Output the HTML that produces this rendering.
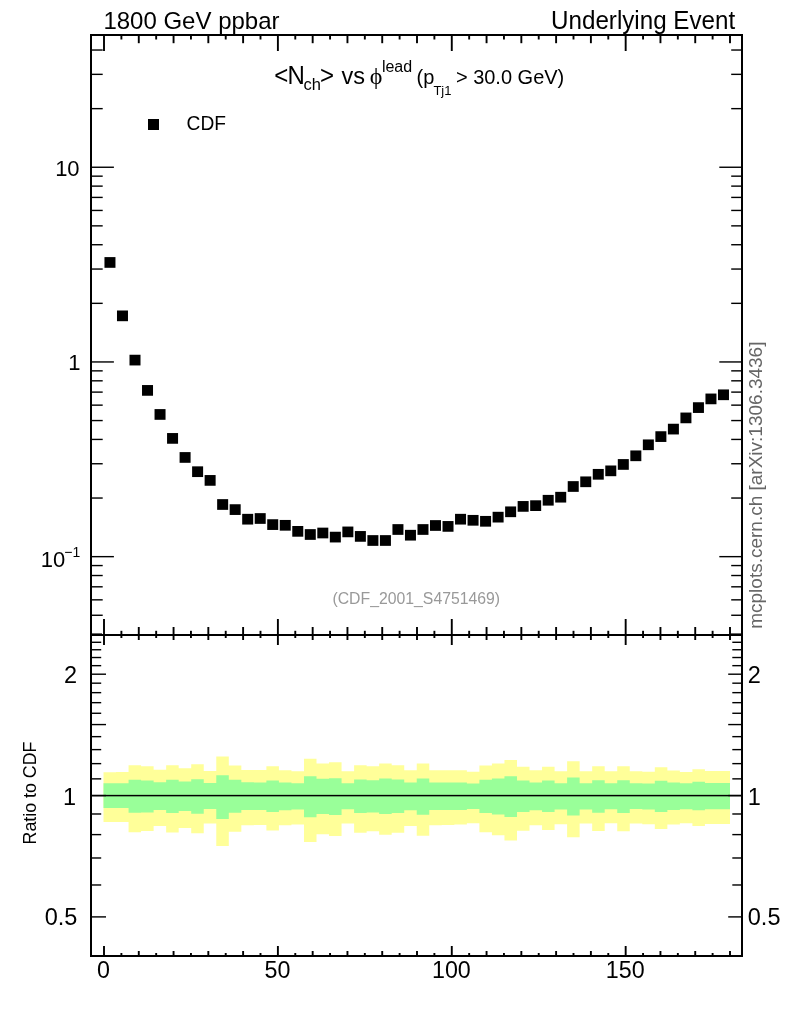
<!DOCTYPE html>
<html lang="en"><head><meta charset="utf-8"><title>Underlying Event</title>
<style>html,body{margin:0;padding:0;background:#fff}body{width:786px;height:1024px;position:relative;overflow:hidden}</style></head>
<body>
<svg width="786" height="1024" viewBox="0 0 786 1024" style="position:absolute;left:0;top:0">
<rect width="786" height="1024" fill="#fff"/>
<path d="M103.50 772.29L116.03 772.29L116.03 771.89L128.56 771.89L128.56 765.17L141.09 765.17L141.09 766.19L153.62 766.19L153.62 769.65L166.15 769.65L166.15 765.17L178.68 765.17L178.68 768.22L191.21 768.22L191.21 764.35L203.74 764.35L203.74 771.07L216.27 771.07L216.27 756.42L228.80 756.42L228.80 765.58L241.33 765.58L241.33 770.05L253.86 770.05L253.86 770.05L266.39 770.05L266.39 766.19L278.92 766.19L278.92 770.26L291.45 770.26L291.45 771.28L303.98 771.28L303.98 758.86L316.51 758.86L316.51 763.54L329.04 763.54L329.04 762.32L341.57 762.32L341.57 771.28L354.10 771.28L354.10 765.17L366.63 765.17L366.63 766.19L379.16 766.19L379.16 763.54L391.69 763.54L391.69 765.17L404.22 765.17L404.22 770.26L416.75 770.26L416.75 763.54L429.28 763.54L429.28 770.26L441.81 770.26L441.81 770.26L454.34 770.26L454.34 770.26L466.87 770.26L466.87 771.68L479.40 771.68L479.40 765.58L491.93 765.58L491.93 763.54L504.46 763.54L504.46 759.88L516.99 759.88L516.99 766.80L529.52 766.80L529.52 770.26L542.05 770.26L542.05 766.80L554.58 766.80L554.58 771.28L567.11 771.28L567.11 761.30L579.64 761.30L579.64 771.28L592.17 771.28L592.17 766.19L604.70 766.19L604.70 771.28L617.23 771.28L617.23 766.19L629.76 766.19L629.76 771.28L642.29 771.28L642.29 771.68L654.82 771.68L654.82 767.20L667.35 767.20L667.35 770.46L679.88 770.46L679.88 772.09L692.41 772.09L692.41 769.24L704.94 769.24L704.94 771.07L717.47 771.07L717.47 771.07L730.00 771.07L730.00 824.00L717.47 824.00L717.47 824.00L704.94 824.00L704.94 826.03L692.41 826.03L692.41 823.18L679.88 823.18L679.88 824.61L667.35 824.61L667.35 829.09L654.82 829.09L654.82 824.20L642.29 824.20L642.29 823.59L629.76 823.59L629.76 831.33L617.23 831.33L617.23 823.18L604.70 823.18L604.70 831.12L592.17 831.12L592.17 823.59L579.64 823.59L579.64 837.23L567.11 837.23L567.11 824.20L554.58 824.20L554.58 830.11L542.05 830.11L542.05 825.22L529.52 825.22L529.52 830.72L516.99 830.72L516.99 840.49L504.46 840.49L504.46 835.19L491.93 835.19L491.93 832.14L479.40 832.14L479.40 823.18L466.87 823.18L466.87 824.61L454.34 824.61L454.34 825.02L441.81 825.02L441.81 825.22L429.28 825.22L429.28 835.81L416.75 835.81L416.75 826.03L404.22 826.03L404.22 832.75L391.69 832.75L391.69 834.79L379.16 834.79L379.16 831.33L366.63 831.33L366.63 832.75L354.10 832.75L354.10 823.59L341.57 823.59L341.57 836.01L329.04 836.01L329.04 834.18L316.51 834.18L316.51 841.91L303.98 841.91L303.98 824.61L291.45 824.61L291.45 825.22L278.92 825.22L278.92 830.51L266.39 830.51L266.39 825.02L253.86 825.02L253.86 825.22L241.33 825.22L241.33 831.73L228.80 831.73L228.80 845.98L216.27 845.98L216.27 823.59L203.74 823.59L203.74 833.16L191.21 833.16L191.21 828.07L178.68 828.07L178.68 832.55L166.15 832.55L166.15 826.03L153.62 826.03L153.62 831.12L141.09 831.12L141.09 832.14L128.56 832.14L128.56 821.96L116.03 821.96L116.03 821.96L103.50 821.96Z" fill="#ffff99"/>
<path d="M103.50 783.29L116.03 783.29L116.03 783.29L128.56 783.29L128.56 779.83L141.09 779.83L141.09 780.44L153.62 780.44L153.62 782.27L166.15 782.27L166.15 779.83L178.68 779.83L178.68 781.45L191.21 781.45L191.21 779.22L203.74 779.22L203.74 782.88L216.27 782.88L216.27 775.14L228.80 775.14L228.80 779.83L241.33 779.83L241.33 782.27L253.86 782.27L253.86 782.47L266.39 782.47L266.39 780.44L278.92 780.44L278.92 782.47L291.45 782.47L291.45 783.29L303.98 783.29L303.98 776.16L316.51 776.16L316.51 778.81L329.04 778.81L329.04 778.20L341.57 778.20L341.57 783.29L354.10 783.29L354.10 779.42L366.63 779.42L366.63 780.23L379.16 780.23L379.16 778.40L391.69 778.40L391.69 779.42L404.22 779.42L404.22 782.47L416.75 782.47L416.75 778.40L429.28 778.40L429.28 782.47L441.81 782.47L441.81 782.47L454.34 782.47L454.34 782.47L466.87 782.47L466.87 783.49L479.40 783.49L479.40 779.83L491.93 779.83L491.93 778.40L504.46 778.40L504.46 776.37L516.99 776.37L516.99 780.44L529.52 780.44L529.52 782.47L542.05 782.47L542.05 780.44L554.58 780.44L554.58 783.29L567.11 783.29L567.11 777.38L579.64 777.38L579.64 783.29L592.17 783.29L592.17 780.23L604.70 780.23L604.70 783.29L617.23 783.29L617.23 780.23L629.76 780.23L629.76 783.29L642.29 783.29L642.29 783.49L654.82 783.49L654.82 780.84L667.35 780.84L667.35 782.47L679.88 782.47L679.88 783.29L692.41 783.29L692.41 781.86L704.94 781.86L704.94 782.88L717.47 782.88L717.47 783.08L730.00 783.08L730.00 809.14L717.47 809.14L717.47 809.34L704.94 809.34L704.94 810.36L692.41 810.36L692.41 809.34L679.88 809.34L679.88 809.95L667.35 809.95L667.35 811.99L654.82 811.99L654.82 809.55L642.29 809.55L642.29 808.94L629.76 808.94L629.76 813.01L617.23 813.01L617.23 809.34L604.70 809.34L604.70 812.80L592.17 812.80L592.17 809.55L579.64 809.55L579.64 815.45L567.11 815.45L567.11 809.55L554.58 809.55L554.58 811.99L542.05 811.99L542.05 810.36L529.52 810.36L529.52 811.99L516.99 811.99L516.99 817.08L504.46 817.08L504.46 814.43L491.93 814.43L491.93 813.01L479.40 813.01L479.40 808.94L466.87 808.94L466.87 809.95L454.34 809.95L454.34 809.95L441.81 809.95L441.81 809.95L429.28 809.95L429.28 814.84L416.75 814.84L416.75 810.36L404.22 810.36L404.22 813.01L391.69 813.01L391.69 814.02L379.16 814.02L379.16 812.40L366.63 812.40L366.63 813.01L354.10 813.01L354.10 809.34L341.57 809.34L341.57 815.04L329.04 815.04L329.04 814.02L316.51 814.02L316.51 817.28L303.98 817.28L303.98 809.55L291.45 809.55L291.45 810.36L278.92 810.36L278.92 811.99L266.39 811.99L266.39 809.95L253.86 809.95L253.86 809.95L241.33 809.95L241.33 812.80L228.80 812.80L228.80 818.91L216.27 818.91L216.27 808.94L203.74 808.94L203.74 813.82L191.21 813.82L191.21 810.97L178.68 810.97L178.68 813.01L166.15 813.01L166.15 809.95L153.62 809.95L153.62 812.40L141.09 812.40L141.09 812.80L128.56 812.80L128.56 807.92L116.03 807.92L116.03 807.92L103.50 807.92Z" fill="#99ff99"/>
<rect x="92" y="794.85" width="649" height="1.5" fill="#000"/>
<g fill="#000" shape-rendering="crispEdges">
<rect x="90" y="34" width="2" height="923"/>
<rect x="741" y="34" width="2" height="923"/>
<rect x="90" y="34" width="653" height="2"/>
<rect x="90" y="634" width="653" height="2"/>
<rect x="90" y="955" width="653" height="2"/>
</g>
<g fill="#000">
<rect x="103.05" y="35" width="1.9" height="16"/>
<rect x="103.05" y="619.00" width="1.9" height="26"/>
<rect x="103.05" y="946.00" width="1.9" height="10"/>
<rect x="120.44" y="35" width="1.9" height="4.5"/>
<rect x="120.44" y="630.80" width="1.9" height="7.2"/>
<rect x="120.44" y="953.00" width="1.9" height="3"/>
<rect x="137.83" y="35" width="1.9" height="8.2"/>
<rect x="137.83" y="627.00" width="1.9" height="13"/>
<rect x="137.83" y="951.00" width="1.9" height="5"/>
<rect x="155.22" y="35" width="1.9" height="4.5"/>
<rect x="155.22" y="630.80" width="1.9" height="7.2"/>
<rect x="155.22" y="953.00" width="1.9" height="3"/>
<rect x="172.61" y="35" width="1.9" height="8.2"/>
<rect x="172.61" y="627.00" width="1.9" height="13"/>
<rect x="172.61" y="951.00" width="1.9" height="5"/>
<rect x="190.00" y="35" width="1.9" height="4.5"/>
<rect x="190.00" y="630.80" width="1.9" height="7.2"/>
<rect x="190.00" y="953.00" width="1.9" height="3"/>
<rect x="207.38" y="35" width="1.9" height="8.2"/>
<rect x="207.38" y="627.00" width="1.9" height="13"/>
<rect x="207.38" y="951.00" width="1.9" height="5"/>
<rect x="224.77" y="35" width="1.9" height="4.5"/>
<rect x="224.77" y="630.80" width="1.9" height="7.2"/>
<rect x="224.77" y="953.00" width="1.9" height="3"/>
<rect x="242.16" y="35" width="1.9" height="8.2"/>
<rect x="242.16" y="627.00" width="1.9" height="13"/>
<rect x="242.16" y="951.00" width="1.9" height="5"/>
<rect x="259.55" y="35" width="1.9" height="4.5"/>
<rect x="259.55" y="630.80" width="1.9" height="7.2"/>
<rect x="259.55" y="953.00" width="1.9" height="3"/>
<rect x="276.94" y="35" width="1.9" height="16"/>
<rect x="276.94" y="619.00" width="1.9" height="26"/>
<rect x="276.94" y="946.00" width="1.9" height="10"/>
<rect x="294.33" y="35" width="1.9" height="4.5"/>
<rect x="294.33" y="630.80" width="1.9" height="7.2"/>
<rect x="294.33" y="953.00" width="1.9" height="3"/>
<rect x="311.72" y="35" width="1.9" height="8.2"/>
<rect x="311.72" y="627.00" width="1.9" height="13"/>
<rect x="311.72" y="951.00" width="1.9" height="5"/>
<rect x="329.11" y="35" width="1.9" height="4.5"/>
<rect x="329.11" y="630.80" width="1.9" height="7.2"/>
<rect x="329.11" y="953.00" width="1.9" height="3"/>
<rect x="346.50" y="35" width="1.9" height="8.2"/>
<rect x="346.50" y="627.00" width="1.9" height="13"/>
<rect x="346.50" y="951.00" width="1.9" height="5"/>
<rect x="363.88" y="35" width="1.9" height="4.5"/>
<rect x="363.88" y="630.80" width="1.9" height="7.2"/>
<rect x="363.88" y="953.00" width="1.9" height="3"/>
<rect x="381.27" y="35" width="1.9" height="8.2"/>
<rect x="381.27" y="627.00" width="1.9" height="13"/>
<rect x="381.27" y="951.00" width="1.9" height="5"/>
<rect x="398.66" y="35" width="1.9" height="4.5"/>
<rect x="398.66" y="630.80" width="1.9" height="7.2"/>
<rect x="398.66" y="953.00" width="1.9" height="3"/>
<rect x="416.05" y="35" width="1.9" height="8.2"/>
<rect x="416.05" y="627.00" width="1.9" height="13"/>
<rect x="416.05" y="951.00" width="1.9" height="5"/>
<rect x="433.44" y="35" width="1.9" height="4.5"/>
<rect x="433.44" y="630.80" width="1.9" height="7.2"/>
<rect x="433.44" y="953.00" width="1.9" height="3"/>
<rect x="450.83" y="35" width="1.9" height="16"/>
<rect x="450.83" y="619.00" width="1.9" height="26"/>
<rect x="450.83" y="946.00" width="1.9" height="10"/>
<rect x="468.22" y="35" width="1.9" height="4.5"/>
<rect x="468.22" y="630.80" width="1.9" height="7.2"/>
<rect x="468.22" y="953.00" width="1.9" height="3"/>
<rect x="485.61" y="35" width="1.9" height="8.2"/>
<rect x="485.61" y="627.00" width="1.9" height="13"/>
<rect x="485.61" y="951.00" width="1.9" height="5"/>
<rect x="503.00" y="35" width="1.9" height="4.5"/>
<rect x="503.00" y="630.80" width="1.9" height="7.2"/>
<rect x="503.00" y="953.00" width="1.9" height="3"/>
<rect x="520.39" y="35" width="1.9" height="8.2"/>
<rect x="520.39" y="627.00" width="1.9" height="13"/>
<rect x="520.39" y="951.00" width="1.9" height="5"/>
<rect x="537.77" y="35" width="1.9" height="4.5"/>
<rect x="537.77" y="630.80" width="1.9" height="7.2"/>
<rect x="537.77" y="953.00" width="1.9" height="3"/>
<rect x="555.16" y="35" width="1.9" height="8.2"/>
<rect x="555.16" y="627.00" width="1.9" height="13"/>
<rect x="555.16" y="951.00" width="1.9" height="5"/>
<rect x="572.55" y="35" width="1.9" height="4.5"/>
<rect x="572.55" y="630.80" width="1.9" height="7.2"/>
<rect x="572.55" y="953.00" width="1.9" height="3"/>
<rect x="589.94" y="35" width="1.9" height="8.2"/>
<rect x="589.94" y="627.00" width="1.9" height="13"/>
<rect x="589.94" y="951.00" width="1.9" height="5"/>
<rect x="607.33" y="35" width="1.9" height="4.5"/>
<rect x="607.33" y="630.80" width="1.9" height="7.2"/>
<rect x="607.33" y="953.00" width="1.9" height="3"/>
<rect x="624.72" y="35" width="1.9" height="16"/>
<rect x="624.72" y="619.00" width="1.9" height="26"/>
<rect x="624.72" y="946.00" width="1.9" height="10"/>
<rect x="642.11" y="35" width="1.9" height="4.5"/>
<rect x="642.11" y="630.80" width="1.9" height="7.2"/>
<rect x="642.11" y="953.00" width="1.9" height="3"/>
<rect x="659.50" y="35" width="1.9" height="8.2"/>
<rect x="659.50" y="627.00" width="1.9" height="13"/>
<rect x="659.50" y="951.00" width="1.9" height="5"/>
<rect x="676.89" y="35" width="1.9" height="4.5"/>
<rect x="676.89" y="630.80" width="1.9" height="7.2"/>
<rect x="676.89" y="953.00" width="1.9" height="3"/>
<rect x="694.28" y="35" width="1.9" height="8.2"/>
<rect x="694.28" y="627.00" width="1.9" height="13"/>
<rect x="694.28" y="951.00" width="1.9" height="5"/>
<rect x="711.66" y="35" width="1.9" height="4.5"/>
<rect x="711.66" y="630.80" width="1.9" height="7.2"/>
<rect x="711.66" y="953.00" width="1.9" height="3"/>
<rect x="729.05" y="35" width="1.9" height="8.2"/>
<rect x="729.05" y="627.00" width="1.9" height="13"/>
<rect x="729.05" y="951.00" width="1.9" height="5"/>
<rect x="91" y="614.56" width="11.70" height="1.4"/>
<rect x="731.2" y="614.56" width="10.80" height="1.4"/>
<rect x="91" y="599.14" width="11.70" height="1.4"/>
<rect x="731.2" y="599.14" width="10.80" height="1.4"/>
<rect x="91" y="586.11" width="11.70" height="1.4"/>
<rect x="731.2" y="586.11" width="10.80" height="1.4"/>
<rect x="91" y="574.82" width="11.70" height="1.4"/>
<rect x="731.2" y="574.82" width="10.80" height="1.4"/>
<rect x="91" y="564.86" width="11.70" height="1.4"/>
<rect x="731.2" y="564.86" width="10.80" height="1.4"/>
<rect x="91" y="555.95" width="22.90" height="1.4"/>
<rect x="719.3" y="555.95" width="22.70" height="1.4"/>
<rect x="91" y="497.34" width="11.70" height="1.4"/>
<rect x="731.2" y="497.34" width="10.80" height="1.4"/>
<rect x="91" y="463.05" width="11.70" height="1.4"/>
<rect x="731.2" y="463.05" width="10.80" height="1.4"/>
<rect x="91" y="438.73" width="11.70" height="1.4"/>
<rect x="731.2" y="438.73" width="10.80" height="1.4"/>
<rect x="91" y="419.86" width="11.70" height="1.4"/>
<rect x="731.2" y="419.86" width="10.80" height="1.4"/>
<rect x="91" y="404.44" width="11.70" height="1.4"/>
<rect x="731.2" y="404.44" width="10.80" height="1.4"/>
<rect x="91" y="391.41" width="11.70" height="1.4"/>
<rect x="731.2" y="391.41" width="10.80" height="1.4"/>
<rect x="91" y="380.12" width="11.70" height="1.4"/>
<rect x="731.2" y="380.12" width="10.80" height="1.4"/>
<rect x="91" y="370.16" width="11.70" height="1.4"/>
<rect x="731.2" y="370.16" width="10.80" height="1.4"/>
<rect x="91" y="361.25" width="22.90" height="1.4"/>
<rect x="719.3" y="361.25" width="22.70" height="1.4"/>
<rect x="91" y="302.64" width="11.70" height="1.4"/>
<rect x="731.2" y="302.64" width="10.80" height="1.4"/>
<rect x="91" y="268.35" width="11.70" height="1.4"/>
<rect x="731.2" y="268.35" width="10.80" height="1.4"/>
<rect x="91" y="244.03" width="11.70" height="1.4"/>
<rect x="731.2" y="244.03" width="10.80" height="1.4"/>
<rect x="91" y="225.16" width="11.70" height="1.4"/>
<rect x="731.2" y="225.16" width="10.80" height="1.4"/>
<rect x="91" y="209.74" width="11.70" height="1.4"/>
<rect x="731.2" y="209.74" width="10.80" height="1.4"/>
<rect x="91" y="196.71" width="11.70" height="1.4"/>
<rect x="731.2" y="196.71" width="10.80" height="1.4"/>
<rect x="91" y="185.42" width="11.70" height="1.4"/>
<rect x="731.2" y="185.42" width="10.80" height="1.4"/>
<rect x="91" y="175.46" width="11.70" height="1.4"/>
<rect x="731.2" y="175.46" width="10.80" height="1.4"/>
<rect x="91" y="166.55" width="22.90" height="1.4"/>
<rect x="719.3" y="166.55" width="22.70" height="1.4"/>
<rect x="91" y="107.94" width="11.70" height="1.4"/>
<rect x="731.2" y="107.94" width="10.80" height="1.4"/>
<rect x="91" y="73.65" width="11.70" height="1.4"/>
<rect x="731.2" y="73.65" width="10.80" height="1.4"/>
<rect x="91" y="49.33" width="11.70" height="1.4"/>
<rect x="731.2" y="49.33" width="10.80" height="1.4"/>
<rect x="92" y="633.2" width="10" height="0.8" opacity="0.75"/><rect x="731" y="633.2" width="10" height="0.8" opacity="0.75"/>
<rect x="91" y="916.20" width="15.00" height="1.4"/>
<rect x="728.2" y="916.20" width="13.80" height="1.4"/>
<rect x="91" y="884.28" width="10.20" height="1.4"/>
<rect x="732.3" y="884.28" width="9.70" height="1.4"/>
<rect x="91" y="857.29" width="10.20" height="1.4"/>
<rect x="732.3" y="857.29" width="9.70" height="1.4"/>
<rect x="91" y="833.91" width="10.20" height="1.4"/>
<rect x="732.3" y="833.91" width="9.70" height="1.4"/>
<rect x="91" y="813.29" width="10.20" height="1.4"/>
<rect x="732.3" y="813.29" width="9.70" height="1.4"/>
<rect x="91" y="794.85" width="15.00" height="1.4"/>
<rect x="728.2" y="794.85" width="13.80" height="1.4"/>
<rect x="91" y="778.16" width="10.20" height="1.4"/>
<rect x="732.3" y="778.16" width="9.70" height="1.4"/>
<rect x="91" y="762.93" width="10.20" height="1.4"/>
<rect x="732.3" y="762.93" width="9.70" height="1.4"/>
<rect x="91" y="748.92" width="10.20" height="1.4"/>
<rect x="732.3" y="748.92" width="9.70" height="1.4"/>
<rect x="91" y="735.95" width="10.20" height="1.4"/>
<rect x="732.3" y="735.95" width="9.70" height="1.4"/>
<rect x="91" y="723.87" width="15.00" height="1.4"/>
<rect x="728.2" y="723.87" width="13.80" height="1.4"/>
<rect x="91" y="712.57" width="10.20" height="1.4"/>
<rect x="732.3" y="712.57" width="9.70" height="1.4"/>
<rect x="91" y="701.96" width="10.20" height="1.4"/>
<rect x="732.3" y="701.96" width="9.70" height="1.4"/>
<rect x="91" y="691.95" width="10.20" height="1.4"/>
<rect x="732.3" y="691.95" width="9.70" height="1.4"/>
<rect x="91" y="682.48" width="10.20" height="1.4"/>
<rect x="732.3" y="682.48" width="9.70" height="1.4"/>
<rect x="91" y="673.50" width="15.00" height="1.4"/>
<rect x="728.2" y="673.50" width="13.80" height="1.4"/>
<rect x="91" y="664.96" width="10.20" height="1.4"/>
<rect x="732.3" y="664.96" width="9.70" height="1.4"/>
<rect x="91" y="656.82" width="10.20" height="1.4"/>
<rect x="732.3" y="656.82" width="9.70" height="1.4"/>
<rect x="91" y="649.04" width="10.20" height="1.4"/>
<rect x="732.3" y="649.04" width="9.70" height="1.4"/>
<rect x="91" y="641.59" width="10.20" height="1.4"/>
<rect x="732.3" y="641.59" width="9.70" height="1.4"/>
</g>
<g fill="#000">
<rect x="104.46" y="257.10" width="11" height="10.7"/>
<rect x="116.98" y="310.50" width="11" height="10.7"/>
<rect x="129.50" y="354.75" width="11" height="10.7"/>
<rect x="142.02" y="385.05" width="11" height="10.7"/>
<rect x="154.54" y="409.10" width="11" height="10.7"/>
<rect x="167.06" y="433.05" width="11" height="10.7"/>
<rect x="179.59" y="452.10" width="11" height="10.7"/>
<rect x="192.11" y="466.35" width="11" height="10.7"/>
<rect x="204.63" y="475.05" width="11" height="10.7"/>
<rect x="217.15" y="499.15" width="11" height="10.7"/>
<rect x="229.67" y="504.25" width="11" height="10.7"/>
<rect x="242.19" y="513.85" width="11" height="10.7"/>
<rect x="254.71" y="513.15" width="11" height="10.7"/>
<rect x="267.23" y="519.25" width="11" height="10.7"/>
<rect x="279.75" y="519.95" width="11" height="10.7"/>
<rect x="292.27" y="526.00" width="11" height="10.7"/>
<rect x="304.79" y="529.15" width="11" height="10.7"/>
<rect x="317.31" y="527.65" width="11" height="10.7"/>
<rect x="329.83" y="531.75" width="11" height="10.7"/>
<rect x="342.36" y="526.55" width="11" height="10.7"/>
<rect x="354.88" y="531.05" width="11" height="10.7"/>
<rect x="367.40" y="535.15" width="11" height="10.7"/>
<rect x="379.92" y="535.15" width="11" height="10.7"/>
<rect x="392.44" y="524.15" width="11" height="10.7"/>
<rect x="404.96" y="529.85" width="11" height="10.7"/>
<rect x="417.48" y="524.15" width="11" height="10.7"/>
<rect x="430.00" y="520.15" width="11" height="10.7"/>
<rect x="442.52" y="521.05" width="11" height="10.7"/>
<rect x="455.04" y="513.85" width="11" height="10.7"/>
<rect x="467.56" y="514.95" width="11" height="10.7"/>
<rect x="480.08" y="515.95" width="11" height="10.7"/>
<rect x="492.61" y="511.80" width="11" height="10.7"/>
<rect x="505.13" y="506.45" width="11" height="10.7"/>
<rect x="517.65" y="501.05" width="11" height="10.7"/>
<rect x="530.17" y="500.30" width="11" height="10.7"/>
<rect x="542.69" y="494.90" width="11" height="10.7"/>
<rect x="555.21" y="491.85" width="11" height="10.7"/>
<rect x="567.73" y="481.15" width="11" height="10.7"/>
<rect x="580.25" y="476.45" width="11" height="10.7"/>
<rect x="592.77" y="468.95" width="11" height="10.7"/>
<rect x="605.29" y="465.50" width="11" height="10.7"/>
<rect x="617.81" y="459.10" width="11" height="10.7"/>
<rect x="630.33" y="450.45" width="11" height="10.7"/>
<rect x="642.85" y="439.45" width="11" height="10.7"/>
<rect x="655.38" y="431.25" width="11" height="10.7"/>
<rect x="667.90" y="423.75" width="11" height="10.7"/>
<rect x="680.42" y="412.55" width="11" height="10.7"/>
<rect x="692.94" y="402.25" width="11" height="10.7"/>
<rect x="705.46" y="393.55" width="11" height="10.7"/>
<rect x="717.98" y="389.45" width="11" height="10.7"/>
<rect x="148" y="119" width="11" height="11"/>
</g>
<g font-family="Liberation Sans, Arial, Helvetica, sans-serif" fill="#000">
<text transform="translate(103.40,29.00) scale(1,1.03)" font-size="24" >1800 GeV ppbar</text>
<text transform="translate(735.20,29.00) scale(1,1.03)" font-size="24.2" text-anchor="end">Underlying Event</text>
<text transform="translate(274.30,83.70) scale(1,1.04)" font-size="24" >&lt;</text>
<text transform="translate(287.60,83.70) scale(1,1.04)" font-size="24" >N</text>
<text transform="translate(303.40,90.30) scale(1,1.0)" font-size="16.5" >ch</text>
<text transform="translate(320.00,83.70) scale(1,1.04)" font-size="24" >&gt;</text>
<text transform="translate(341.40,83.70) scale(1,1.0)" font-size="23.5" >vs</text>
<text x="369.7" y="83.70" font-size="24" font-family="Liberation Serif, serif">ϕ</text>
<text transform="translate(381.90,71.70) scale(1,1.0)" font-size="16" >lead</text>
<text transform="translate(416.50,83.70) scale(1,1.0)" font-size="20" >(p</text>
<text transform="translate(433.40,94.80) scale(1,1.04)" font-size="13" >Tj1</text>
<text transform="translate(455.90,83.70) scale(1,1.04)" font-size="20" >&gt; 30.0 GeV)</text>
<text transform="translate(186.60,130.00) scale(1,1.04)" font-size="19.2" >CDF</text>
<text transform="translate(416.30,604.30) scale(1,1.04)" font-size="15.8" text-anchor="middle" fill="#999">(CDF_2001_S4751469)</text>
<text transform="translate(762.30,628.80) rotate(-90) scale(1,1.0)" font-size="19.0" fill="#666">mcplots.cern.ch [arXiv:1306.3436]</text>
<text transform="translate(36.00,844.40) rotate(-90) scale(1,1.03)" font-size="17.8" >Ratio to CDF</text>
<text transform="translate(103.60,978.20) scale(1,1.04)" font-size="23.3" text-anchor="middle">0</text>
<text transform="translate(277.49,978.20) scale(1,1.04)" font-size="23.3" text-anchor="middle">50</text>
<text transform="translate(451.38,978.20) scale(1,1.04)" font-size="23.3" text-anchor="middle">100</text>
<text transform="translate(625.27,978.20) scale(1,1.04)" font-size="23.3" text-anchor="middle">150</text>
<text transform="translate(79.60,175.50) scale(1,1.04)" font-size="22" text-anchor="end">10</text>
<text transform="translate(80.40,369.90) scale(1,1.04)" font-size="22" text-anchor="end">1</text>
<text transform="translate(65.20,567.00) scale(1,1.04)" font-size="22" text-anchor="end">10</text>
<text transform="translate(80.20,556.70) scale(1,1.04)" font-size="14" text-anchor="end">−1</text>
<text transform="translate(77.20,682.90) scale(1,1.04)" font-size="23.5" text-anchor="end">2</text>
<text transform="translate(76.00,804.70) scale(1,1.04)" font-size="23.5" text-anchor="end">1</text>
<text transform="translate(77.30,925.40) scale(1,1.04)" font-size="23.5" text-anchor="end">0.5</text>
<text transform="translate(747.80,682.90) scale(1,1.04)" font-size="23.5" >2</text>
<text transform="translate(747.80,804.70) scale(1,1.04)" font-size="23.5" >1</text>
<text transform="translate(747.80,925.40) scale(1,1.04)" font-size="23.5" >0.5</text>
</g>
</svg>
</body></html>
